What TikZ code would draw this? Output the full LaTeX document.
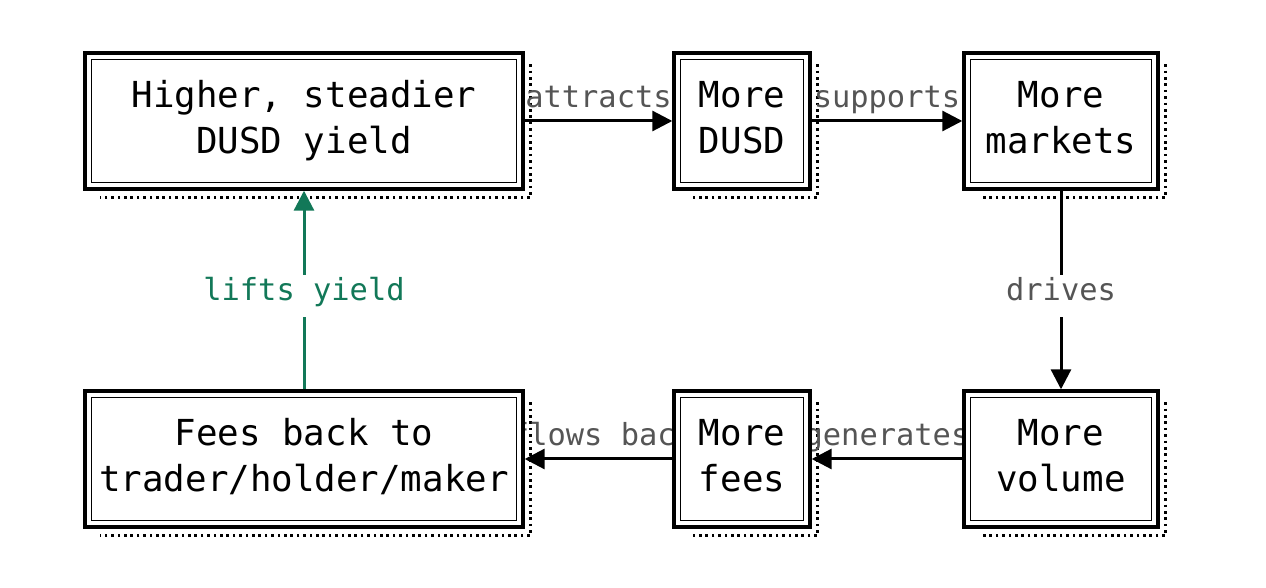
\documentclass[tikz,border=0pt]{standalone}
\usepackage{fontspec}
\setmonofont{DejaVu Sans Mono}
\usetikzlibrary{arrows.meta,backgrounds}
\definecolor{lblgray}{RGB}{85,85,85}
\definecolor{liftgreen}{RGB}{18,120,88}

\tikzset{
  loopbox/.style={draw, line width=1.7pt, fill=white, align=center,
    minimum height=68pt, font=\ttfamily\fontsize{17.9}{23}\selectfont,
    execute at end node={\vphantom{gy}}},
  flow/.style={line width=1.5pt, -{Triangle[length=10pt,width=10pt]}},
  lbl/.style={font=\ttfamily\fontsize{15.2}{18}\selectfont, text=lblgray,
    text height=0.75em, text depth=0.25em},
  gaplbl/.style={lbl, fill=white, inner ysep=5.3pt, yshift=-3pt},
  shadowline/.style={line width=1.3pt, dash pattern=on 1.3pt off 1.9pt},
}

\begin{document}
\begin{tikzpicture}[x=0.5pt,y=-0.5pt]
  \useasboundingbox (0,0) rectangle (1266,588);

  % top row
  \node[loopbox, minimum width=219pt] (yield) at (304,121) {Higher, steadier\\DUSD yield};
  \node[loopbox, minimum width=68pt] (dusd) at (742,121) {More\\DUSD};
  \node[loopbox, minimum width=97pt] (markets) at (1061,121) {More\\markets};
  % bottom row
  \node[loopbox, minimum width=219pt] (feesback) at (304,459) {Fees back to\\trader/holder/maker};
  \node[loopbox, minimum width=68pt] (fees) at (742,459) {More\\fees};
  \node[loopbox, minimum width=97pt] (volume) at (1061,459) {More\\volume};

  % inner frame of each box
  \foreach \n in {yield,dusd,markets,feesback,fees,volume} {
    \draw[line width=0.6pt] ([shift={(4.2pt,-4.2pt)}]\n.north west) rectangle ([shift={(-4.2pt,4.2pt)}]\n.south east);
  }

  \begin{scope}[on background layer]
    % dotted shadows
    \foreach \n in {yield,dusd,markets,feesback,fees,volume} {
      \draw[shadowline] ([shift={(3pt,-6.5pt)}]\n.north east) |- ([shift={(8.5pt,-3.5pt)}]\n.south west);
    }
    % the loop
    \draw[flow] (yield) -- node[lbl, above] {attracts} (dusd);
    \draw[flow] (dusd) -- node[lbl, above] {supports} (markets);
    \draw[flow] (markets) -- node[gaplbl] {drives} (volume);
    \draw[flow] (volume) -- node[lbl, above] {generates} (fees);
    \draw[flow] (fees) -- node[lbl, above, xshift=2pt] {flows back} (feesback);
    \draw[flow, liftgreen] (feesback) -- node[gaplbl, text=liftgreen] {lifts yield} (yield);
  \end{scope}
\end{tikzpicture}
\end{document}
